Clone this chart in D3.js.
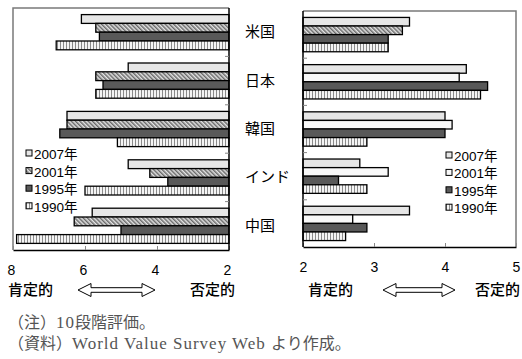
<!DOCTYPE html>
<html>
<head>
<meta charset="utf-8">
<script src="https://cdn.jsdelivr.net/npm/d3@7/dist/d3.min.js"></script>
<style>
  html, body { margin: 0; padding: 0; background: #fff; }
  svg { display: block; }
  .tick text { font-family: "Liberation Sans", Arial, sans-serif; font-size: 14px; fill: #000; }
</style>
</head>
<body>
<svg id="chart" width="522" height="359"></svg>
<script>
// Countries (top to bottom) and survey waves (top to bottom within each country)
const categories = ["米国", "日本", "韓国", "インド", "中国"];
const years = ["2007年", "2001年", "1995年", "1990年"];

// Left panel (axis reversed, 8 = positive ... 2 = negative)
const left2007 = [6.1, 4.8, 6.5, 4.8, 5.8];
const left2001 = [5.7, 5.7, 6.5, 4.2, 6.3];
const left1995 = [5.6, 5.5, 6.7, 3.7, 5.0];
const left1990 = [6.8, 5.7, 5.1, 6.0, 7.9];

// Right panel (2 = positive ... 5 = negative)
const right2007 = [3.5, 4.3, 4.0, 2.8, 3.5];
const right2001 = [3.4, 4.2, 4.1, 3.2, 2.7];
const right1995 = [3.2, 4.6, 4.0, 2.5, 2.9];
const right1990 = [3.2, 4.5, 2.9, 2.9, 2.6];

const leftTicks = [8, 6, 4, 2];
const rightTicks = [2, 3, 4, 5];

const svg = d3.select("#chart");
const defs = svg.append("defs");

// Diagonal hatch
const hatch = defs.append("pattern").attr("id", "hatch")
  .attr("patternUnits", "userSpaceOnUse").attr("width", 3).attr("height", 3)
  .attr("patternTransform", "rotate(-45)");
hatch.append("rect").attr("width", 3).attr("height", 3).attr("fill", "#e4e4e4");
hatch.append("line").attr("x1", 0.75).attr("y1", 0).attr("x2", 0.75).attr("y2", 3)
  .attr("stroke", "#6a6a6a").attr("stroke-width", 1.5);

// Vertical stripes
const vstripe = defs.append("pattern").attr("id", "vstripe")
  .attr("patternUnits", "userSpaceOnUse").attr("width", 3).attr("height", 3);
vstripe.append("rect").attr("width", 3).attr("height", 3).attr("fill", "#f4f4f4");
vstripe.append("line").attr("x1", 0.5).attr("y1", 0).attr("x2", 0.5).attr("y2", 3)
  .attr("stroke", "#8a8a8a").attr("stroke-width", 1);

const fillLeft = { "2007年": "#e6e6e6", "2001年": "url(#hatch)", "1995年": "#595959", "1990年": "url(#vstripe)" };
const fillRight = { "2007年": "#e6e6e6", "2001年": "#f8f8f8", "1995年": "#595959", "1990年": "url(#vstripe)" };
// In the right panel only the US 2001 bar keeps the hatch
const hatchedRight2001 = ["米国"];

function panel(cfg) {
  const { x, y, series, fills, baseValue, catSide, legend } = cfg;
  const g = svg.append("g");
  const inner = d3.scaleBand().domain(years).range([0, y.bandwidth()])
    .paddingInner(0).paddingOuter(0.75);

  const [xa, xb] = x.range();
  const [ya, yb] = y.range();

  // frame (grey sides)
  g.append("path")
    .attr("d", catSide === "right"
      ? `M${xb},${ya} L${xa},${ya} L${xa},${yb}`
      : `M${xa},${ya} L${xb},${ya} L${xb},${yb}`)
    .attr("fill", "none").attr("stroke", "#7a7a7a").attr("stroke-width", 1.5);

  // bars
  const rows = [];
  categories.forEach((c, i) => {
    years.forEach((yr, j) => rows.push({ c, yr, v: series[j][i] }));
  });
  g.selectAll("rect.bar").data(rows).join("rect").attr("class", "bar")
    .attr("x", d => Math.min(x(d.v), x(baseValue)))
    .attr("width", d => Math.abs(x(d.v) - x(baseValue)))
    .attr("y", d => y(d.c) + inner(d.yr))
    .attr("height", inner.bandwidth())
    .attr("fill", d => (cfg.hatchOverride && d.yr === "2001年" && cfg.hatchOverride.includes(d.c)) ? "url(#hatch)" : fills[d.yr])
    .attr("stroke", "#000").attr("stroke-width", 1.3);

  // value axis along the bottom
  g.append("g").attr("transform", `translate(0,${yb})`)
    .call(d3.axisBottom(x).tickValues(cfg.ticks).tickSize(-4).tickSizeOuter(0)
      .tickPadding(cfg.tickPad).tickFormat(d3.format("d")))
    .call(a => a.select(".domain").attr("stroke", "#000").attr("stroke-width", 1.5))
    .call(a => a.selectAll(".tick line").attr("stroke", "#888"))
    .call(a => a.selectAll(".tick text").attr("dx", cfg.tickDx || 0));

  // category axis (at the base of the bars) with ticks between countries
  const cx = x(baseValue);
  const dir = catSide === "right" ? -1 : 1;
  g.append("line").attr("x1", cx).attr("x2", cx).attr("y1", ya).attr("y2", yb)
    .attr("stroke", "#000").attr("stroke-width", 1.5);
  g.selectAll("line.ctick").data(categories.slice(1)).join("line").attr("class", "ctick")
    .attr("x1", cx).attr("x2", cx + dir * 4)
    .attr("y1", d => y(d)).attr("y2", d => y(d))
    .attr("stroke", "#888");

  // legend
  const lg = g.append("g").attr("transform", `translate(${legend.x},${legend.y})`);
  years.forEach((yr, j) => {
    const row = lg.append("g").attr("transform", `translate(0,${j * legend.step})`);
    row.append("rect").attr("x", 0).attr("y", -4).attr("width", 6).attr("height", 6)
      .attr("fill", fills[yr]).attr("stroke", "#000").attr("stroke-width", 1);
    row.append("text").attr("x", 8).attr("y", 5)
      .style("font-family", "'Liberation Sans', 'Noto Sans CJK JP', sans-serif")
      .style("font-size", "13.5px").text(yr);
  });
  return g;
}

const xL = d3.scaleLinear().domain([8, 2]).range([13, 229]);
const yL = d3.scaleBand().domain(categories).range([8, 250]);
panel({
  x: xL, y: yL, baseValue: 2, catSide: "right",
  series: [left2007, left2001, left1995, left1990], fills: fillLeft,
  ticks: leftTicks, tickPad: 15, tickDx: -2,
  legend: { x: 26, y: 154, step: 17.6 }
});

const xR = d3.scaleLinear().domain([2, 5]).range([303, 516]);
const yR = d3.scaleBand().domain(categories).range([11, 247]);
panel({
  x: xR, y: yR, baseValue: 2, catSide: "left",
  series: [right2007, right2001, right1995, right1990], fills: fillRight,
  hatchOverride: hatchedRight2001,
  ticks: rightTicks, tickPad: 15,
  legend: { x: 446, y: 156, step: 17.4 }
});

// country labels between the panels
svg.append("g").selectAll("text").data(categories).join("text")
  .attr("x", 245).attr("y", d => yL(d) + yL.bandwidth() / 2 + 5)
  .style("font-family", "'Noto Sans CJK JP', sans-serif").style("font-size", "15px")
  .text(d => d);

// direction captions with double arrows
function arrow(x0, x1, cy) {
  const h = 13, H = 6.5, s = 2.3;
  return `M${x0},${cy} L${x0 + h},${cy - H} L${x0 + h},${cy - s} L${x1 - h},${cy - s} L${x1 - h},${cy - H} L${x1},${cy} ` +
         `L${x1 - h},${cy + H} L${x1 - h},${cy + s} L${x0 + h},${cy + s} L${x0 + h},${cy + H} Z`;
}
const capY = 290;
const caps = [
  { x: 8, t: "肯定的" }, { x: 190, t: "否定的" },
  { x: 308, t: "肯定的" }, { x: 475, t: "否定的" }
];
svg.append("g").selectAll("text").data(caps).join("text")
  .attr("x", d => d.x).attr("y", capY + 5)
  .style("font-family", "'Noto Sans CJK JP', sans-serif").style("font-size", "15px")
  .style("font-weight", "500")
  .text(d => d.t);
svg.append("path").attr("d", arrow(78, 155, capY)).attr("fill", "#fff").attr("stroke", "#000").attr("stroke-width", 1);
svg.append("path").attr("d", arrow(383, 455, capY)).attr("fill", "#fff").attr("stroke", "#000").attr("stroke-width", 1);

// notes (Latin runs set a little wider, like a Century face)
const notes = [
  [{ t: "（注）" }, { t: "10", latin: true }, { t: "段階評価。" }],
  [{ t: "（資料）" }, { t: "World Value Survey Web ", latin: true }, { t: "より作成。" }]
];
const noteG = svg.append("g")
  .style("font-family", "'Liberation Serif', 'Noto Sans CJK JP', serif")
  .style("font-size", "16px").style("fill", "#555");
notes.forEach((parts, i) => {
  const t = noteG.append("text").attr("x", 8).attr("y", 328 + i * 21);
  parts.forEach(p => {
    t.append("tspan").text(p.t)
      .style("letter-spacing", p.latin ? "1px" : null)
      .style("font-size", p.latin ? "17px" : null);
  });
});
</script>
</body>
</html>
